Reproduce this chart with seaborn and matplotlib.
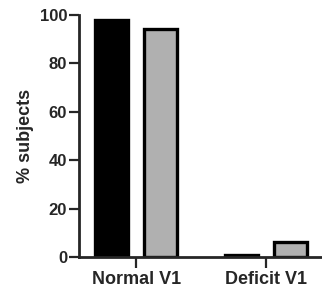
import matplotlib
matplotlib.use('Agg')
import matplotlib.pyplot as plt
import seaborn as sns
import pandas as pd

categories = ['Normal V1', 'Deficit V1']
groups = ['A', 'B']
values_a = [98, 1]
values_b = [94, 6]

df = pd.DataFrame({
    'cat': categories * 2,
    'group': [groups[0]] * 2 + [groups[1]] * 2,
    'val': values_a + values_b,
})

sns.set_style('ticks')
plt.rcParams['font.family'] = ['Liberation Sans', 'DejaVu Sans']
plt.rcParams['font.weight'] = 'bold'

fig = plt.figure(figsize=(3.22, 2.92), dpi=100)
ax = fig.add_axes([0.245, 0.12, 0.755, 0.829])

sns.barplot(data=df, x='cat', y='val', hue='group', order=categories,
            palette=['black', '#b0b0b0'], width=0.75, gap=0.33,
            edgecolor='black', linewidth=2.4, legend=False, ax=ax)

ax.set_ylim(0, 100)
ax.set_xlim(-0.44, 1.43)
ax.set_yticks([0, 20, 40, 60, 80, 100])
ax.set_ylabel('% subjects', fontsize=13, fontweight='bold', labelpad=4)
ax.set_xlabel('')
ax.tick_params(axis='y', labelsize=12, width=1.6, length=7, pad=1.5)
ax.tick_params(axis='x', labelsize=13, width=1.6, length=8, pad=2)
for lab in ax.get_xticklabels() + ax.get_yticklabels():
    lab.set_fontweight('bold')
sns.despine(ax=ax)
for s in ['left', 'bottom']:
    ax.spines[s].set_linewidth(2)

fig.savefig('out.png', dpi=100)
